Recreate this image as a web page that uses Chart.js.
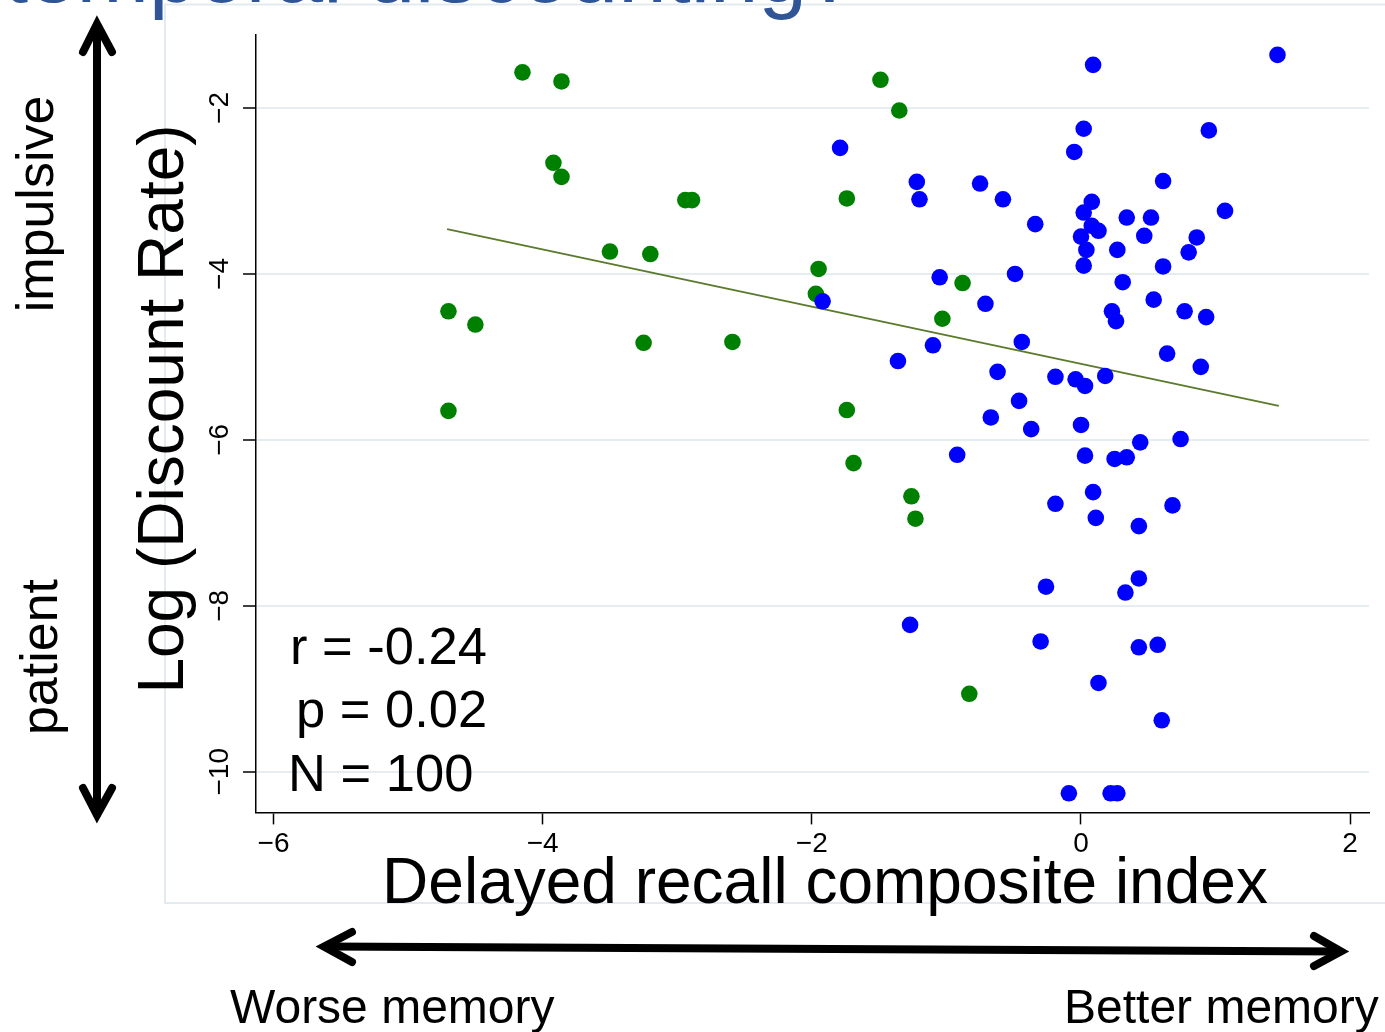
<!DOCTYPE html>
<html>
<head>
<meta charset="utf-8">
<script src="https://cdn.jsdelivr.net/npm/chart.js@4.4.1/dist/chart.umd.min.js"></script>
<style>
  html, body { margin: 0; padding: 0; background: #fff; }
  #wrap { position: relative; width: 1385px; height: 1032px; overflow: hidden; }
</style>
</head>
<body>
<div id="wrap"><canvas id="myChart" width="1385" height="1032"></canvas></div>
<script>
/* global Chart */

// tick labels
const xTicks = [-6, -4, -2, 0, 2];
const yTicks = [-10, -8, -6, -4, -2];

// green group
const greenX = [-4.15, -3.86, -3.92, -3.86, -2.94, -2.89, -1.74, -1.49, -1.35, -3.50, -3.20, -1.95, -1.97,
  -4.70, -4.50, -3.25, -2.59, -4.70, -1.74, -0.88, -1.03, -1.69, -1.26, -1.23, -0.83];
const greenY = [-1.57, -1.68, -2.66, -2.83, -3.11, -3.11, -3.09, -1.66, -2.03, -3.73, -3.76, -3.94, -4.24,
  -4.45, -4.61, -4.83, -4.82, -5.65, -5.64, -4.11, -4.54, -6.28, -6.68, -6.95, -9.06];

// blue group
const blueX = [1.46, 0.09, 0.02, 0.95, -1.79, -0.05, -1.22, -0.75, 0.61, -1.20, -0.58, 0.08, 1.07,
  0.02, 0.34, 0.52, -0.34, 0.08, 0.13, 0.00, 0.47, 0.86, 0.04, 0.27, 0.80, 0.02,
  0.61, -1.05, -0.49, 0.31, -1.92, -0.71, 0.54, 0.23, 0.26, 0.77, 0.93, -1.10, -0.44,
  -1.36, 0.64, 0.89, -0.62, -0.19, -0.04, 0.03, 0.18, -0.46, -0.67, -0.37, 0.00, 0.44,
  0.74, -0.92, 0.03, 0.25, 0.34, 0.09, -0.19, 0.68, 0.11, 0.43, -0.26, 0.43, 0.33,
  -0.30, 0.43, 0.57, 0.13, 0.60, -0.09, 0.22, 0.27, -1.27];
const blueY = [-1.36, -1.48, -2.25, -2.27, -2.48, -2.53, -2.89, -2.91, -2.88, -3.10, -3.10, -3.13, -3.24,
  -3.26, -3.32, -3.32, -3.40, -3.42, -3.48, -3.55, -3.54, -3.56, -3.71, -3.71, -3.74, -3.90,
  -3.91, -4.04, -4.00, -4.10, -4.33, -4.36, -4.31, -4.45, -4.57, -4.45, -4.52, -4.86, -4.82,
  -5.05, -4.96, -5.12, -5.18, -5.24, -5.27, -5.35, -5.23, -5.53, -5.73, -5.87, -5.82, -6.03,
  -5.99, -6.18, -6.19, -6.23, -6.21, -6.63, -6.77, -6.79, -6.94, -7.04, -7.77, -7.67, -7.84,
  -8.43, -8.50, -8.47, -8.93, -9.38, -10.26, -10.26, -10.26, -8.23];

// fitted line end points
const fitX = [-4.71, 1.47];
const fitY = [-3.46, -5.59];

const FONT = '"Liberation Sans", Arial, Helvetica, sans-serif';
Chart.defaults.font.family = FONT;

function fmt(v) {
  return v < 0 ? '\u2212' + Math.abs(v) : String(v);
}

function toPoints(xs, ys) {
  return xs.map(function(x, i) { return { x: x, y: ys[i] }; });
}

function arrowHead(c, tx, ty, ax, ay, bx, by) {
  c.beginPath();
  c.moveTo(ax, ay);
  c.lineTo(tx, ty);
  c.lineTo(bx, by);
  c.stroke();
}

const decor = {
  id: 'decor',
  beforeDraw: function(chart) {
    const c = chart.ctx;
    c.save();
    c.fillStyle = '#fff';
    c.fillRect(0, 0, chart.width, chart.height);
    // light frame of the slide picture
    c.strokeStyle = '#e4ebee';
    c.lineWidth = 2;
    c.strokeRect(165, 4.5, 1300, 898.5);
    c.restore();
  },
  afterDraw: function(chart) {
    const c = chart.ctx;
    const y = chart.scales.y;
    c.save();
    c.fillStyle = '#000';

    // rotated y tick labels
    c.font = '28px ' + FONT;
    c.textAlign = 'center';
    c.textBaseline = 'alphabetic';
    yTicks.forEach(function(v) {
      c.save();
      c.translate(228, y.getPixelForValue(v));
      c.rotate(-Math.PI / 2);
      c.fillText(fmt(v), 0, 0);
      c.restore();
    });

    // axis titles
    c.font = '64px ' + FONT;
    c.save();
    c.translate(183, 409);
    c.rotate(-Math.PI / 2);
    c.fillText('Log (Discount Rate)', 0, 0);
    c.restore();
    c.fillText('Delayed recall composite index', 825, 903);

    // side words
    c.font = '52px ' + FONT;
    c.save();
    c.translate(53, 204);
    c.rotate(-Math.PI / 2);
    c.fillText('impulsive', 0, 0);
    c.restore();
    c.save();
    c.translate(57, 657);
    c.rotate(-Math.PI / 2);
    c.fillText('patient', 0, 0);
    c.restore();

    // stats
    c.textAlign = 'left';
    c.font = '52.5px ' + FONT;
    c.fillText('r = -0.24', 290, 664);
    c.fillText('p = 0.02', 296, 727);
    c.fillText('N = 100', 288, 791);

    // memory labels
    c.font = '48px ' + FONT;
    c.fillText('Worse memory', 230, 1023);
    c.fillText('Better memory', 1064, 1023);

    // arrows
    c.strokeStyle = '#000';
    c.lineWidth = 8;
    c.lineCap = 'round';
    c.lineJoin = 'miter';
    c.beginPath();
    c.moveTo(97, 26);
    c.lineTo(97, 814);
    c.stroke();
    arrowHead(c, 97, 24, 83, 52, 112, 52);
    arrowHead(c, 97, 815, 83, 788, 112, 788);

    c.beginPath();
    c.moveTo(326, 946.5);
    c.lineTo(1339, 951.5);
    c.stroke();
    arrowHead(c, 324, 946.5, 352, 932, 352, 962);
    arrowHead(c, 1341, 951.5, 1314, 936, 1314, 966);

    // slide title, mostly cut off at the top
    c.fillStyle = '#2f5597';
    c.font = '87px ' + FONT;
    c.textAlign = 'left';
    c.fillText('temporal discounting?', 4, 2);
    c.restore();
  }
};

var ctx = document.getElementById('myChart').getContext('2d');

var chart = new Chart(ctx, {
  type: 'scatter',
  data: {
    datasets: [{
      type: 'line',
      data: toPoints(fitX, fitY),
      borderColor: '#5b7a2e',
      borderWidth: 2,
      pointRadius: 0,
      fill: false,
      order: 3,
    },
    {
      data: toPoints(greenX, greenY),
      backgroundColor: '#008000',
      pointRadius: 8.3,
      pointHoverRadius: 8.3,
      borderWidth: 0,
      order: 2,
    },
    {
      data: toPoints(blueX, blueY),
      backgroundColor: '#0000ff',
      pointRadius: 8.3,
      pointHoverRadius: 8.3,
      borderWidth: 0,
      order: 1,
    }]
  },
  options: {
    responsive: false,
    animation: false,
    devicePixelRatio: 1,
    events: [],
    layout: { padding: { left: 243, top: 35, right: 16, bottom: 168 } },
    plugins: { legend: { display: false }, tooltip: { enabled: false } },
    scales: {
      x: {
        type: 'linear',
        min: -6.13,
        max: 2.14,
        afterBuildTicks: function(s) { s.ticks = xTicks.map(function(v) { return { value: v }; }); },
        grid: { drawOnChartArea: false, drawTicks: true, tickLength: 12, tickColor: '#000', tickWidth: 1.5 },
        border: { display: true, color: '#000', width: 1.5 },
        ticks: { font: { size: 28 }, color: '#000', padding: 3, maxRotation: 0, autoSkip: false, callback: fmt },
      },
      y: {
        type: 'linear',
        min: -10.49,
        max: -1.12,
        afterBuildTicks: function(s) { s.ticks = yTicks.map(function(v) { return { value: v }; }); },
        grid: { color: '#e6edf0', lineWidth: 2, drawTicks: true, tickLength: 13, tickColor: '#000', tickWidth: 1.5 },
        border: { display: true, color: '#000', width: 1.5 },
        ticks: { display: false },
      }
    }
  },
  plugins: [decor]
});
console.log(chart.chartArea);
</script>
</body>
</html>
